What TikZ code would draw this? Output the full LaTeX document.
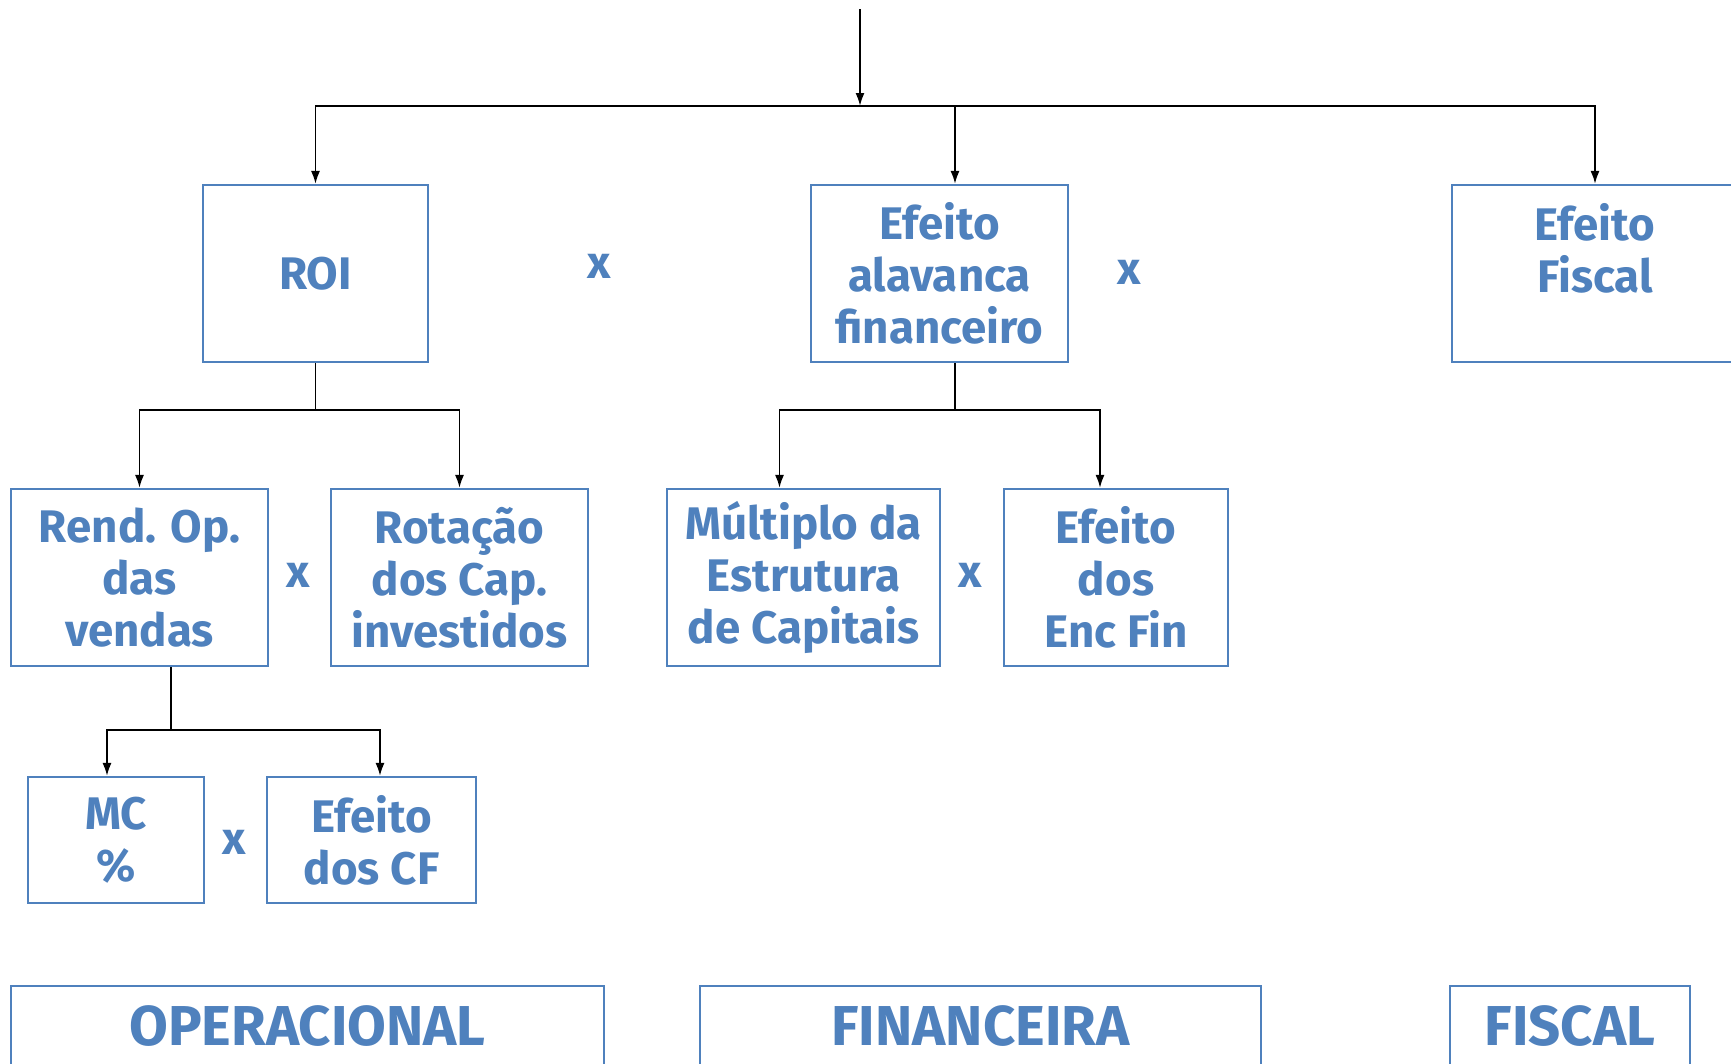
\documentclass[tikz,border=0pt]{standalone}
\usepackage{fontspec}
\setmainfont{Fira Sans}
\usepackage{tikz}
\usetikzlibrary{arrows.meta, positioning, calc}

\definecolor{boxblue}{RGB}{79,129,189}
\newcommand{\boxfont}{\fontsize{26}{29.6}\selectfont\bfseries}
\newcommand{\areafont}{\fontsize{32}{36}\selectfont\bfseries}

\begin{document}
\begin{tikzpicture}[
    x=0.02cm, y=-0.02cm,
    box/.style={rectangle, draw=boxblue, line width=1.2pt, text=boxblue, font=\boxfont, align=center, inner sep=0pt, minimum height=3.54cm},
    smallbox/.style={box, minimum height=2.52cm},
    area/.style={rectangle, draw=boxblue, line width=1.2pt, text=boxblue, font=\areafont, inner sep=0pt, minimum height=1.6cm},
    times/.style={text=boxblue, font=\boxfont, inner sep=0pt},
    line/.style={draw, line width=1.1pt, -{Latex[length=0.26cm, width=0.18cm]}}
]
\useasboundingbox (0,0) rectangle (1731,1063);

% First level
\node[box, minimum width=4.5cm] (roi) at (315.5,273.5) {ROI};
\node[box, minimum width=5.14cm] (alav) at (939.5,273.5) {Efeito\\alavanca\\financeiro};
\node[box, minimum width=5.72cm] (fiscal) at (1595,273.5) {Efeito\\Fiscal\\\mbox{}};
\node[times] (x1) at (599,266) {x};
\node[times] (x2) at (1129,272) {x};

% Second level
\node[box, minimum width=5.14cm] (rend) at (139.5,577.5) {Rend. Op.\\das\\vendas};
\node[box, minimum width=5.14cm] (rot) at (459.5,577.5) {Rotação\\dos Cap.\\investidos};
\node[box, minimum width=5.46cm] (mult) at (803.5,577.5) {Múltiplo da\\Estrutura\\de Capitais};
\node[box, minimum width=4.48cm] (encfin) at (1116,577.5) {Efeito\\dos\\Enc Fin};
\node[times] (x3) at (298,575) {x};
\node[times] (x4) at (970,575) {x};

% Third level
\node[smallbox, minimum width=3.52cm] (mc) at (116,840) {MC\\\%};
\node[smallbox, minimum width=4.18cm] (cf) at (371.5,840) {Efeito\\dos CF};
\node[times] (x5) at (234,842) {x};

% Areas
\node[area, minimum width=11.86cm] (oper) at (307.5,1026) {OPERACIONAL};
\node[area, minimum width=11.22cm] (fin) at (980.5,1026) {FINANCEIRA};
\node[area, minimum width=4.8cm] (fisc) at (1570,1026) {FISCAL};

% Connectors
\coordinate (top) at (860,9);
\coordinate (split) at (860,106);
\path [line] (top) -- (split);
\path [line] (split) -| (roi.north);
\path [line] (split) -| ([xshift=0.31cm]alav.north);
\path [line] (split) -| (fiscal.north);

\coordinate (roisplit) at (315.5,410);
\draw[line width=1.1pt] (roi.south) -- (roisplit);
\path [line] (roisplit) -| (rend.north);
\path [line] (roisplit) -| (rot.north);

\coordinate (alavsplit) at (955,410);
\draw[line width=1.1pt] (alav.south -| alavsplit) -- (alavsplit);
\path [line] (alavsplit) -| ([xshift=-0.48cm]mult.north);
\path [line] (alavsplit) -| ([xshift=-0.32cm]encfin.north);

\coordinate (rendsplit) at (171,730);
\draw[line width=1.1pt] (rend.south -| rendsplit) -- (rendsplit);
\path [line] (rendsplit) -| ([xshift=-0.18cm]mc.north);
\path [line] (rendsplit) -| ([xshift=0.17cm]cf.north);

\end{tikzpicture}
\end{document}
